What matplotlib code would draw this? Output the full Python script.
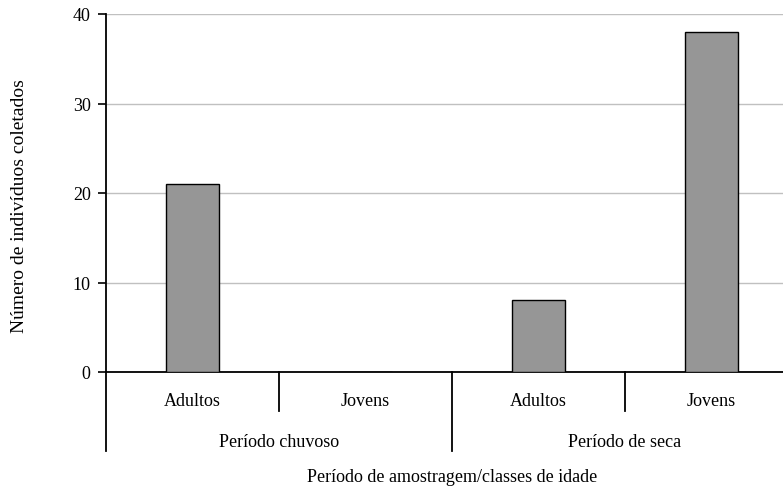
import matplotlib
matplotlib.use("Agg")
import matplotlib.pyplot as plt
import matplotlib.transforms as mtransforms

# data
periods = ["Período chuvoso", "Período de seca"]
classes = ["Adultos", "Jovens", "Adultos", "Jovens"]
counts = [21, 0, 8, 38]
yticks = [0, 10, 20, 30, 40]

plt.rcParams["font.family"] = ["Liberation Serif", "DejaVu Serif"]

W, H = 783, 489
fig = plt.figure(figsize=(W / 100, H / 100), dpi=100)

# axes box in pixels: left 106, right 798 (runs past the image edge), top 15, bottom 373
left, right, top, bottom = 106, 798, 15, 373
ax = fig.add_axes([left / W, 1 - bottom / H, (right - left) / W, (bottom - top) / H])

x = list(range(len(classes)))
ax.bar(x, counts, width=0.31, color="#969696", edgecolor="black", linewidth=1.0, zorder=3)

ax.set_xlim(-0.5, len(classes) - 0.5)
ax.set_ylim(0, 40)
ax.set_yticks(yticks)
ax.yaxis.grid(True, color="#c0c0c0", linewidth=1.0, zorder=0)
ax.tick_params(axis="y", direction="out", length=6, width=1.2, pad=5, labelsize=13)
ax.set_xticks([])

for s in ["top", "right"]:
    ax.spines[s].set_visible(False)
ax.spines["left"].set_linewidth(1.3)
ax.spines["bottom"].set_linewidth(1.3)

# multi-level category axis below the plot
tr = mtransforms.blended_transform_factory(ax.transData, fig.transFigure)
fy = lambda py: 1 - py / H

# dividers: short between classes, long between periods
for i in range(len(classes) + 1):
    xb = i - 0.5
    end = 452 if i % 2 == 0 else 412
    ax.plot([xb, xb], [fy(bottom), fy(end)], color="black", linewidth=1.3,
            transform=tr, clip_on=False)

for xi, lab in zip(x, classes):
    fig.text(xi, fy(406), lab, transform=tr, ha="center", va="baseline", fontsize=13)

for j, per in enumerate(periods):
    fig.text(2 * j + 0.5, fy(447), per, transform=tr, ha="center", va="baseline", fontsize=13)

fig.text(452 / W, fy(482), "Período de amostragem/classes de idade",
         ha="center", va="baseline", fontsize=13)
fig.text(20 / W, fy(206), "Número de indivíduos coletados", rotation=90,
         ha="center", va="center", fontsize=14)

fig.savefig("out.png", dpi=100)
